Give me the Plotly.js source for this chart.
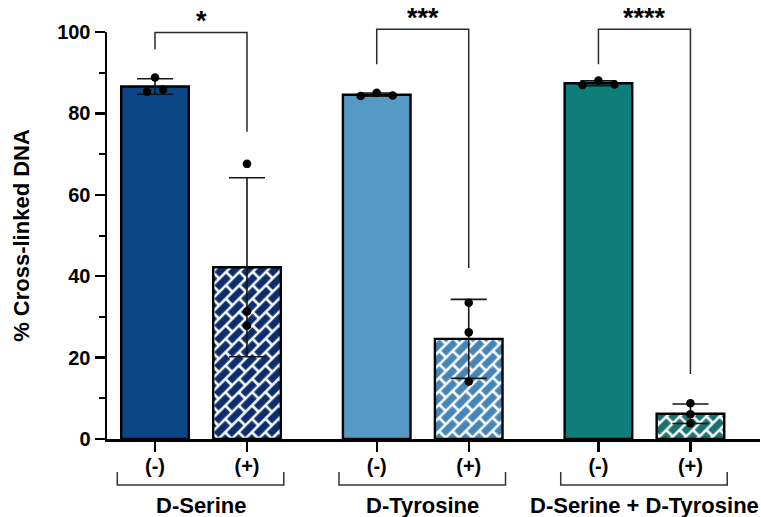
<!DOCTYPE html>
<html>
<head>
<meta charset="utf-8">
<script src="https://cdn.plot.ly/plotly-3.0.1.min.js"></script>
<style>
  html, body { margin: 0; padding: 0; background: #fff; }
  #chart { width: 761px; height: 517px; }
</style>
</head>
<body>
<div id="chart"></div>
<script>
// ---- values ----
const groups = ['D-Serine', 'D-Tyrosine', 'D-Serine + D-Tyrosine'];
const treatments = ['(-)', '(+)'];
const meanValues = [86.6, 42.2, 84.6, 24.6, 87.4, 6.2];
const sdValues = [1.9, 22.0, 0.4, 9.7, 0.6, 2.4];
const replicates = [
  [88.8, 85.3, 85.9],
  [67.6, 31.3, 27.8],
  [84.3, 85.1, 84.4],
  [33.5, 26.2, 14.1],
  [87.0, 88.1, 87.1],
  [8.8, 6.1, 3.9]
];
const sigLabels = ['*', '***', '****'];
const bracketTop = [99.9, 100.7, 100.7];
const bracketLeftEnd = [95.7, 92.1, 92.1];
const bracketRightEnd = [75.5, 42.0, 16.0];

// ---- styling / layout ----
const barColors = ['#0b4586', '#0c2e6c', '#5799c5', '#4686b7', '#0f7d7a', '#1b716d'];
const hatched = [false, true, false, true, false, true];
const FONT = 'Liberation Sans, Arial, Helvetica, sans-serif';
const W = 761, H = 517;
const M = { l: 107, r: 1, t: 32, b: 78 };
const GROUP_STEP = 2.41;          // distance between group starts (x units)
const PX_PER_UNIT = 92;           // horizontal scale
const jitterPx = [[0, -8, 8], [0, 0, 0], [-16, 0, 16], [0, 0, 0], [-16, 0, 16], [0, 0, 0]];

const positions = [];
groups.forEach((g, gi) => treatments.forEach((t, ti) => positions.push(gi * GROUP_STEP + ti)));
const tickText = groups.flatMap(() => treatments);

const plotH = H - M.t - M.b;
const paperY = px => (H - M.b - px) / plotH;
const xMin = -48 / PX_PER_UNIT;
const xMax = xMin + (W - M.l - M.r) / PX_PER_UNIT;

const bars = {
  type: 'bar',
  x: positions,
  y: meanValues,
  width: 0.735,
  marker: {
    color: barColors,
    line: { color: '#000', width: 2.4 }
  },
  error_y: { type: 'data', array: sdValues, symmetric: true, color: '#161616', thickness: 1.6, width: 18 },
  hoverinfo: 'skip'
};

const ptsX = [], ptsY = [];
replicates.forEach((vals, i) => vals.forEach((v, k) => {
  ptsX.push(positions[i] + jitterPx[i][k] / PX_PER_UNIT);
  ptsY.push(v);
}));
const points = {
  type: 'scatter', mode: 'markers', x: ptsX, y: ptsY,
  marker: { color: '#000', size: 8.5 },
  cliponaxis: false, hoverinfo: 'skip'
};

const shapes = [];
const annotations = [];
groups.forEach((g, gi) => {
  const x0 = positions[gi * 2], x1 = positions[gi * 2 + 1];
  // significance bracket between the two bars of a group
  shapes.push({
    type: 'path', xref: 'x', yref: 'paper',
    path: `M${x0},${bracketLeftEnd[gi] / 100} L${x0},${bracketTop[gi] / 100} L${x1},${bracketTop[gi] / 100} L${x1},${bracketRightEnd[gi] / 100}`,
    line: { color: '#2a2a2a', width: 1.5 }
  });
  annotations.push({
    text: sigLabels[gi], xref: 'x', yref: 'paper', x: (x0 + x1) / 2, y: bracketTop[gi] / 100,
    yanchor: 'bottom', showarrow: false, yshift: -6,
    font: { family: FONT, size: 27, color: '#000', weight: 'bold' }
  });
  // group bracket under the treatment labels
  const gx0 = x0 - 0.41, gx1 = x1 + 0.40;
  const yb = paperY(485), yt = paperY(472);
  shapes.push({
    type: 'path', xref: 'x', yref: 'paper',
    path: `M${gx0},${yt} L${gx0},${yb} L${gx1},${yb} L${gx1},${yt}`,
    line: { color: '#333', width: 1.5 }
  });
  annotations.push({
    text: g, xref: 'x', yref: 'paper', x: (x0 + x1) / 2, y: paperY(505),
    yanchor: 'middle', showarrow: false,
    font: { family: FONT, size: 22, color: '#000', weight: 'bold' }
  });
});

const layout = {
  width: W, height: H,
  margin: M,
  paper_bgcolor: '#fff', plot_bgcolor: '#fff',
  showlegend: false,
  font: { family: FONT, color: '#000' },
  xaxis: {
    range: [xMin, xMax], showgrid: false, zeroline: false,
    showline: true, linecolor: '#000', linewidth: 2.5,
    tickmode: 'array', tickvals: positions, ticktext: tickText,
    ticks: 'outside', ticklen: 10, tickwidth: 2.3, tickcolor: '#000',
    ticklabelstandoff: -3,
    tickfont: { family: FONT, size: 20, color: '#000', weight: 'bold' }
  },
  yaxis: {
    range: [0, 100], showgrid: false, zeroline: false,
    showline: true, linecolor: '#000', linewidth: 2.5,
    tickmode: 'linear', tick0: 0, dtick: 20,
    ticks: 'outside', ticklen: 10, tickwidth: 2.3, tickcolor: '#000',
    minor: { dtick: 10, ticks: 'outside', ticklen: 6, tickwidth: 2, tickcolor: '#000' },
    tickfont: { family: FONT, size: 20, color: '#000', weight: 'bold' },
    title: { text: '% Cross-linked DNA', standoff: 22, font: { family: FONT, size: 22, color: '#000', weight: 'bold' } }
  },
  shapes: shapes,
  annotations: annotations
};

// brick texture (white mortar, diagonal courses) for the (+) bars
function paintBricks(gd) {
  const NS = 'http://www.w3.org/2000/svg';
  const L = 19, h = 9.4;
  const svg = gd.querySelector('svg.main-svg');
  let defs = svg.querySelector('defs');
  if (!defs) { defs = document.createElementNS(NS, 'defs'); svg.insertBefore(defs, svg.firstChild); }
  const barPaths = gd.querySelectorAll('.barlayer .point path');
  barPaths.forEach((bp, i) => {
    if (!hatched[i]) return;
    const id = 'brick-' + i;
    const p = document.createElementNS(NS, 'pattern');
    p.setAttribute('id', id);
    p.setAttribute('patternUnits', 'userSpaceOnUse');
    p.setAttribute('width', L);
    p.setAttribute('height', 2 * h);
    p.setAttribute('patternTransform', 'rotate(-45)');
    const r = document.createElementNS(NS, 'rect');
    r.setAttribute('width', L); r.setAttribute('height', 2 * h); r.setAttribute('fill', barColors[i]);
    p.appendChild(r);
    const path = document.createElementNS(NS, 'path');
    path.setAttribute('d', `M0,0H${L}M0,${h}H${L}M0,${2 * h}H${L}M0,0V${h}M${L},0V${h}M${L / 2},${h}V${2 * h}`);
    path.setAttribute('stroke', '#fff');
    path.setAttribute('stroke-width', 2.6);
    path.setAttribute('fill', 'none');
    p.appendChild(path);
    defs.appendChild(p);
    bp.style.fill = 'url(#' + id + ')';
  });
}

const gd = document.getElementById('chart');
Plotly.newPlot(gd, [bars, points], layout, { staticPlot: true, displayModeBar: false })
  .then(() => paintBricks(gd));
</script>
</body>
</html>
